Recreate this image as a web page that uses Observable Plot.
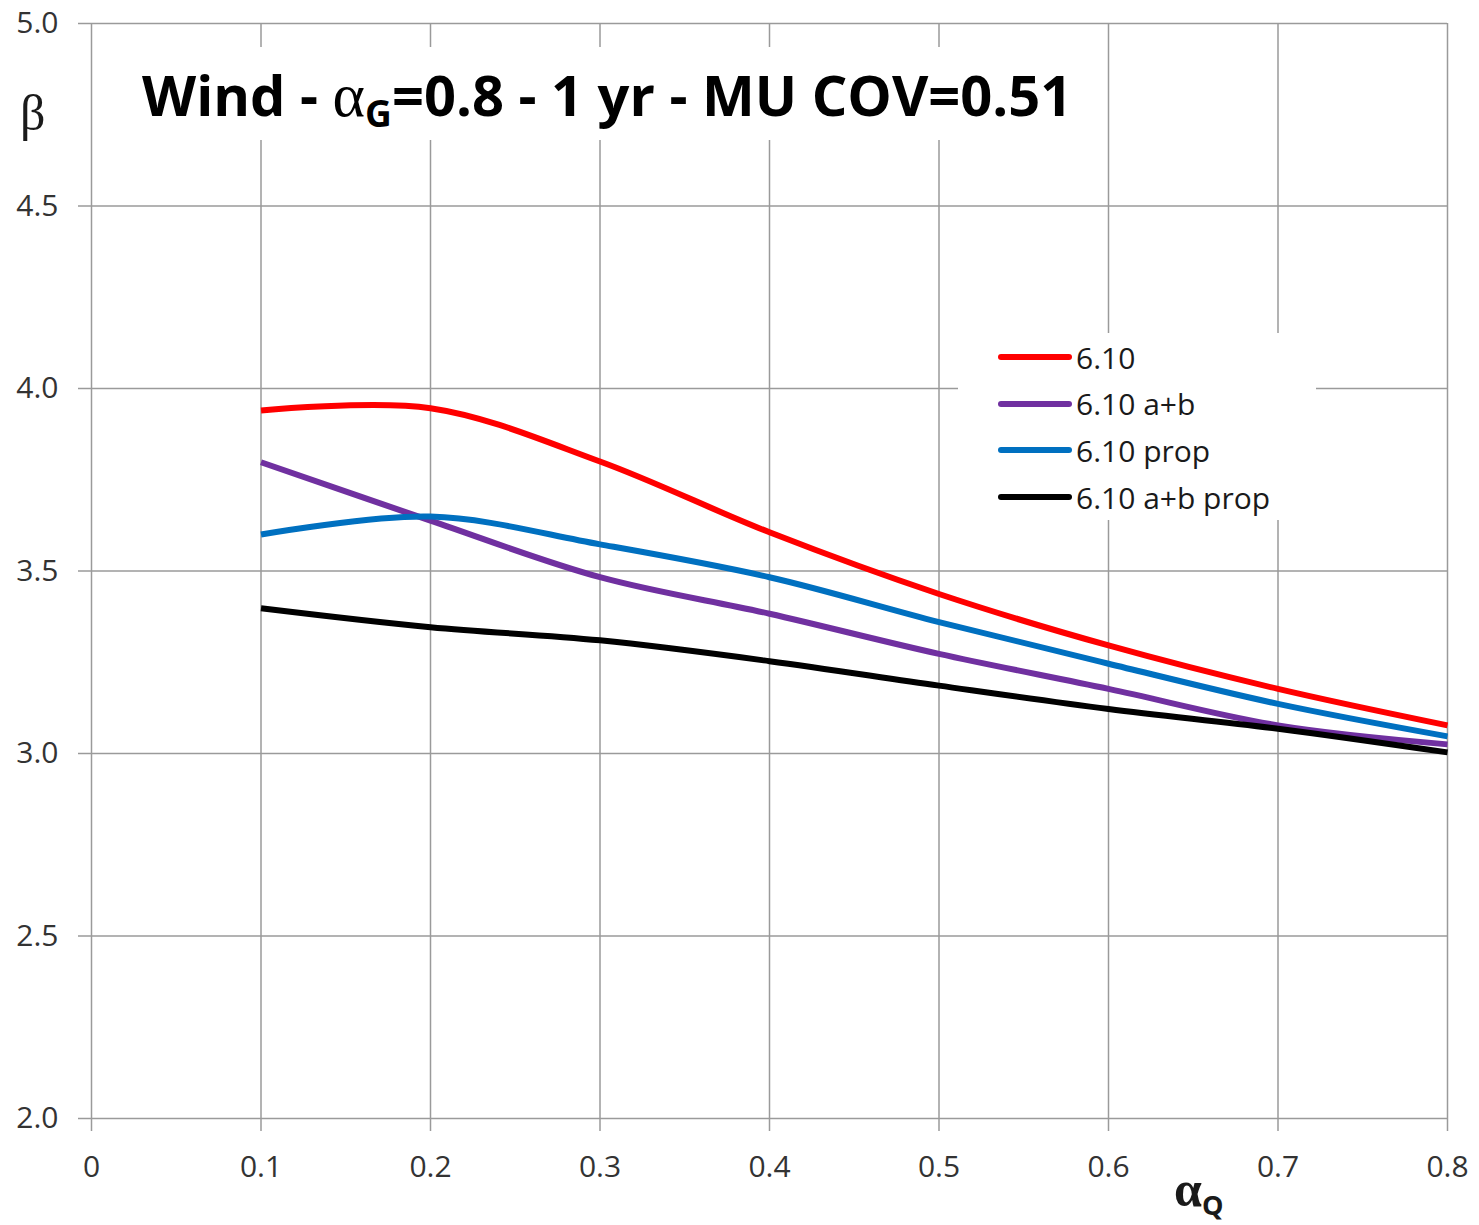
<!DOCTYPE html>
<html>
<head>
<meta charset="utf-8">
<script src="https://cdn.jsdelivr.net/npm/d3@7"></script>
<script src="https://cdn.jsdelivr.net/npm/@observablehq/plot@0.6"></script>
<style>
  html, body { margin: 0; padding: 0; background: #fff; }
  #wrap { position: relative; width: 1479px; height: 1225px; font-family: "Open Sans", sans-serif; }
  #title { position: absolute; left: 120px; top: 47px; width: 975px; height: 93px; background: #fff;
           font-family: "Open Sans", sans-serif; font-weight: 700; font-size: 56px; color: #000; white-space: nowrap; }
  #title .t { position: absolute; left: 22px; top: 17px; line-height: 1; }
  #title .a { font-family: "Liberation Serif", serif; font-weight: 400; font-size: 62px; }
  #title sub { font-size: 37px; vertical-align: -11px; line-height: 0; }
  #legend { position: absolute; left: 958px; top: 333px; width: 358px; height: 187px; background: #fff; }
  .row { position: absolute; left: 40px; height: 40px; display: flex; align-items: center; font-size: 30px; color: #1a1a1a; }
  .row svg { margin-right: 4px; }
  #beta { position: absolute; left: 20px; top: 84px; font-family: "Liberation Serif", serif; font-size: 50px; color: #1a1a1a; }
  #alphaQ { position: absolute; left: 1174px; top: 1160px; font-family: "Liberation Serif", serif; font-weight: 700; font-size: 50px; color: #1a1a1a; white-space: nowrap; }
  #alphaQ sub { font-family: "Open Sans", sans-serif; font-size: 27px; vertical-align: -9px; line-height: 0; }
</style>
</head>
<body>
<div id="wrap"></div>
<script>
const alphaQ = [0.1, 0.2, 0.3, 0.4, 0.5, 0.6, 0.7, 0.8];
const seriesNames = ["6.10", "6.10 a+b", "6.10 prop", "6.10 a+b prop"];
const seriesColors = ["#FF0000", "#7030A0", "#0070C0", "#000000"];
const beta610 = [3.94, 3.946, 3.80, 3.606, 3.437, 3.296, 3.177, 3.077];
const beta610ab = [3.798, 3.638, 3.483, 3.383, 3.273, 3.177, 3.077, 3.025];
const beta610prop = [3.60, 3.649, 3.573, 3.483, 3.36, 3.246, 3.136, 3.047];
const beta610abprop = [3.398, 3.346, 3.31, 3.253, 3.186, 3.122, 3.068, 3.003];
const xTicks = [0, 0.1, 0.2, 0.3, 0.4, 0.5, 0.6, 0.7, 0.8];
const yTicks = [2.0, 2.5, 3.0, 3.5, 4.0, 4.5, 5.0];

const allSeries = [beta610, beta610ab, beta610prop, beta610abprop];
const data = [];
allSeries.forEach((vals, i) => vals.forEach((v, j) => data.push({x: alphaQ[j], y: v, s: seriesNames[i]})));

const gridColor = "#9a9a9a";
const chart = Plot.plot({
  width: 1479,
  height: 1225,
  marginLeft: 91,
  marginRight: 32,
  marginTop: 23,
  marginBottom: 107,
  style: {fontFamily: "Open Sans, sans-serif", fontSize: "30px", color: "#333", background: "#fff"},
  x: {domain: [0, 0.8], ticks: xTicks, label: null},
  y: {domain: [2, 5], ticks: yTicks, label: null},
  color: {domain: seriesNames, range: seriesColors},
  marks: [
    Plot.gridX(xTicks, {stroke: gridColor, strokeOpacity: 1, strokeWidth: 1.5}),
    Plot.gridY(yTicks, {stroke: gridColor, strokeOpacity: 1, strokeWidth: 1.5}),
    Plot.axisX(xTicks, {tickSize: 13, tickPadding: 24, stroke: gridColor, strokeWidth: 1.5, fill: "#333",
      tickFormat: d => d === 0 ? "0" : d3.format(".1f")(d), fontSize: 30}),
    Plot.axisY(yTicks, {tickSize: 13, tickPadding: 20, stroke: gridColor, strokeWidth: 1.5, fill: "#333",
      tickFormat: d3.format(".1f"), fontSize: 30}),
    Plot.line(data, {x: "x", y: "y", z: "s", stroke: "s", strokeWidth: 6, curve: "catmull-rom", strokeLinecap: "butt"})
  ]
});

const wrap = document.getElementById("wrap");
wrap.appendChild(chart);

const title = document.createElement("div");
title.id = "title";
title.innerHTML = '<span class="t">Wind - <span class="a">α</span><sub>G</sub>=0.8 - 1 yr - MU COV=0.51</span>';
wrap.appendChild(title);

const legend = document.createElement("div");
legend.id = "legend";
seriesNames.forEach((name, i) => {
  const row = document.createElement("div");
  row.className = "row";
  row.style.top = (24 - 20 + i * 46.7) + "px";
  row.innerHTML = `<svg width="74" height="10"><line x1="3" y1="5" x2="71" y2="5" stroke="${seriesColors[i]}" stroke-width="6" stroke-linecap="round"/></svg><span>${name}</span>`;
  legend.appendChild(row);
});
wrap.appendChild(legend);

const beta = document.createElement("div");
beta.id = "beta";
beta.textContent = "β";
wrap.appendChild(beta);

const aq = document.createElement("div");
aq.id = "alphaQ";
aq.innerHTML = 'α<sub>Q</sub>';
wrap.appendChild(aq);
</script>
</body>
</html>
